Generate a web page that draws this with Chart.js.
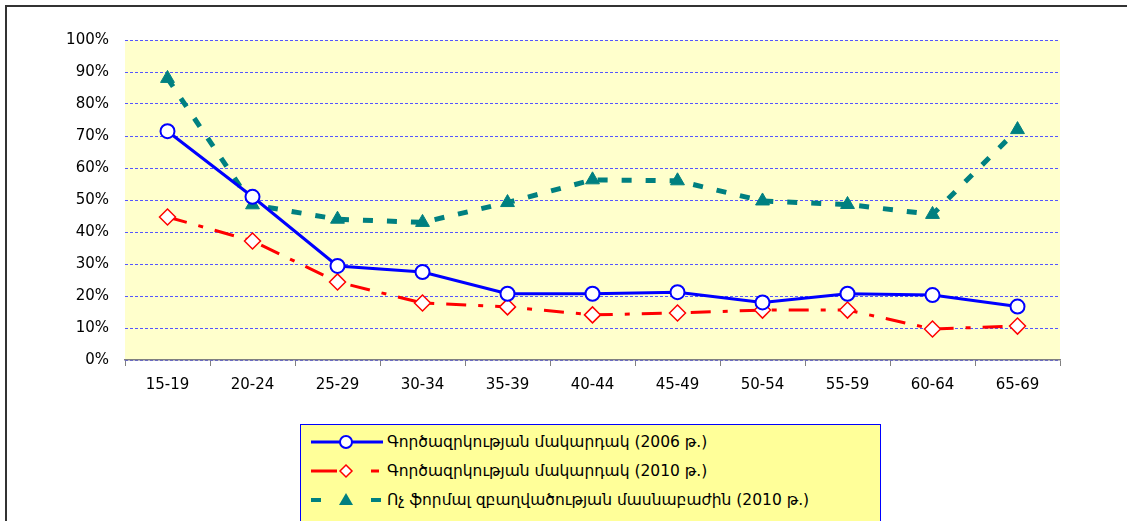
<!DOCTYPE html>
<html>
<head>
<meta charset="utf-8">
<script src="https://cdn.jsdelivr.net/npm/chart.js@4"></script>
<style>
    html, body { margin: 0; padding: 0; background: #fff; overflow: hidden; }
    #wrap { position: relative; width: 1127px; height: 521px; }
    #frame { position: absolute; left: 5px; top: 5px; width: 1200px; height: 600px; border: 2px solid #333; }
    #c { position: absolute; left: 0; top: 0; }
    #legend {
        position: absolute; left: 300px; top: 424px; width: 581px; height: 110px;
        background: #ffff99; border: 1px solid #0000ff; box-sizing: border-box;
        font-family: "DejaVu Sans", sans-serif; font-size: 15.5px; color: #000;
    }
    .row { position: absolute; left: 8px; height: 24px; display: flex; align-items: center; }
    .row svg { margin-right: 2px; }
</style>
</head>
<body>
<div id="wrap">
    <div id="frame"></div>
    <canvas id="c" width="1127" height="521"></canvas>
    <div id="legend">
        <div class="row" style="top:5px">
            <svg width="76" height="20"><line x1="2" y1="10" x2="74" y2="10" stroke="#0000ff" stroke-width="3"/><circle cx="37" cy="10" r="6" fill="#fff" stroke="#0000ff" stroke-width="2"/></svg>
            <span>Գործազրկության մակարդակ (2006 թ.)</span>
        </div>
        <div class="row" style="top:34px">
            <svg width="76" height="20"><line x1="2" y1="10" x2="28" y2="10" stroke="#ff0000" stroke-width="3"/><line x1="62" y1="10" x2="70" y2="10" stroke="#ff0000" stroke-width="3"/><polygon points="37,4 43,10 37,16 31,10" fill="#fff" stroke="#ff0000" stroke-width="1.5"/></svg>
            <span>Գործազրկության մակարդակ (2010 թ.)</span>
        </div>
        <div class="row" style="top:63px">
            <svg width="76" height="20"><line x1="2" y1="10" x2="12" y2="10" stroke="#008080" stroke-width="4"/><line x1="62" y1="10" x2="72" y2="10" stroke="#008080" stroke-width="4"/><polygon points="37,3 44,15 30,15" fill="#008080"/></svg>
            <span>Ոչ ֆորմալ զբաղվածության մասնաբաժին (2010 թ.)</span>
        </div>
    </div>
</div>
<script>
const categories = ['15-19', '20-24', '25-29', '30-34', '35-39', '40-44', '45-49', '50-54', '55-59', '60-64', '65-69'];
const unemployment2006 = [71.5, 51, 29.4, 27.5, 20.7, 20.7, 21.2, 18, 20.7, 20.3, 16.7];
const unemployment2010 = [44.7, 37.2, 24.4, 17.8, 16.6, 14.1, 14.7, 15.6, 15.6, 9.7, 10.6];
const informalShare2010 = [88, 48.5, 44, 43, 49.2, 56.3, 56, 49.7, 48.6, 45.5, 72];
const seriesNames = [
    'Գործազրկության մակարդակ (2006 թ.)',
    'Գործազրկության մակարդակ (2010 թ.)',
    'Ոչ ֆորմալ զբաղվածության մասնաբաժին (2010 թ.)'
];

// fond jaune de la zone de tracé
const plotBg = {
    id: 'plotBg',
    beforeDraw(chart) {
        const { ctx, chartArea: a } = chart;
        ctx.save();
        ctx.fillStyle = '#ffffcc';
        ctx.fillRect(a.left, a.top, a.right - a.left, a.bottom - a.top);
        ctx.restore();
    }
};

const ctx = document.getElementById('c').getContext('2d');
new Chart(ctx, {
    type: 'line',
    data: {
        labels: categories,
        datasets: [{
            label: seriesNames[0],
            data: unemployment2006,
            borderColor: '#0000ff',
            borderWidth: 3,
            pointStyle: 'circle',
            pointRadius: 7,
            pointBackgroundColor: '#fff',
            pointBorderColor: '#0000ff',
            pointBorderWidth: 2,
            tension: 0
        }, {
            label: seriesNames[1],
            data: unemployment2010,
            borderColor: '#ff0000',
            borderWidth: 3,
            borderDash: [20, 12, 5, 12],
            pointStyle: 'rectRot',
            pointRadius: 8,
            pointBackgroundColor: '#fff',
            pointBorderColor: '#ff0000',
            pointBorderWidth: 1.5,
            tension: 0
        }, {
            label: seriesNames[2],
            data: informalShare2010,
            borderColor: '#008080',
            borderWidth: 5,
            borderDash: [10, 14],
            pointStyle: 'triangle',
            pointRadius: 8,
            pointBackgroundColor: '#008080',
            pointBorderColor: '#008080',
            pointBorderWidth: 1,
            tension: 0
        }]
    },
    options: {
        responsive: false,
        animation: false,
        layout: { padding: { left: 0, right: 67, top: 40, bottom: 0 } },
        plugins: { legend: { display: false }, tooltip: { enabled: false } },
        scales: {
            x: {
                offset: true,
                grid: { offset: true, drawOnChartArea: false, drawTicks: true, tickLength: 6, color: '#808080' },
                border: { color: '#808080', width: 1.5 },
                ticks: { color: '#000', padding: 10, font: { family: 'DejaVu Sans', size: 15 } },
                afterFit(scale) { scale.height = 161; }
            },
            y: {
                min: 0,
                max: 100,
                grid: { color: '#5555ff', tickLength: 0, drawTicks: false },
                border: { display: false, dash: [3, 2] },
                ticks: {
                    stepSize: 10,
                    color: '#000',
                    padding: 16,
                    font: { family: 'DejaVu Sans', size: 15 },
                    callback: v => v + '%'
                },
                afterFit(scale) { scale.width = 125; }
            }
        }
    },
    plugins: [plotBg]
});
</script>
</body>
</html>
